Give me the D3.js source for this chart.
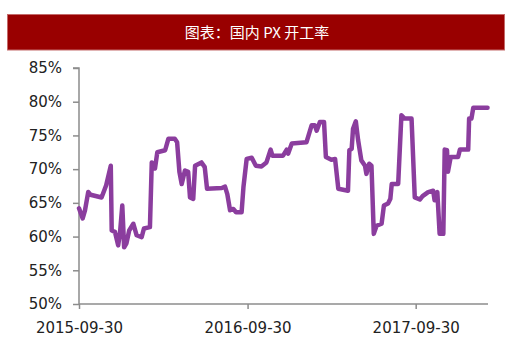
<!DOCTYPE html>
<html>
<head>
<meta charset="utf-8">
<script src="https://cdn.jsdelivr.net/npm/d3@7"></script>
<style>
  body { margin: 0; background: #fff; }
  svg { display: block; }
</style>
</head>
<body>
<svg></svg>
<script>
// chart data
let title = "图表：国内 PX 开工率";

let dates = [
  "2015-09-30","2015-10-08","2015-10-13","2015-10-20","2015-10-25","2015-11-18","2015-11-28","2015-12-08",
  "2015-12-10","2015-12-17","2015-12-24","2015-12-28","2016-01-02","2016-01-06","2016-01-11","2016-01-17",
  "2016-01-26","2016-02-02","2016-02-13","2016-02-18","2016-03-02","2016-03-06","2016-03-13","2016-03-18",
  "2016-04-04","2016-04-11","2016-04-25","2016-04-30","2016-05-05","2016-05-10","2016-05-17","2016-05-24",
  "2016-05-28","2016-06-04","2016-06-08","2016-06-22","2016-06-29","2016-07-04","2016-08-05","2016-08-12",
  "2016-08-17","2016-08-23","2016-08-30","2016-09-05","2016-09-17","2016-09-21","2016-09-28","2016-10-09",
  "2016-10-18","2016-10-30","2016-11-10","2016-11-19","2016-11-23","2016-12-16","2016-12-24","2016-12-27",
  "2017-01-04","2017-02-05","2017-02-16","2017-02-23","2017-02-27","2017-03-06","2017-03-15","2017-03-19",
  "2017-03-31","2017-04-08","2017-04-15","2017-05-06","2017-05-09","2017-05-14","2017-05-17","2017-05-23",
  "2017-05-28","2017-06-04","2017-06-12","2017-06-15","2017-06-21","2017-06-26","2017-07-01","2017-07-07",
  "2017-07-18","2017-07-23","2017-08-01","2017-08-06","2017-08-09","2017-08-23","2017-08-30","2017-09-06",
  "2017-09-21","2017-09-28","2017-10-09","2017-10-15","2017-10-27","2017-11-07","2017-11-10","2017-11-16",
  "2017-11-21","2017-11-29","2017-12-02","2017-12-07","2017-12-09","2017-12-15","2017-12-31","2018-01-04",
  "2018-01-22","2018-01-24","2018-01-29","2018-02-02","2018-03-05"
];

let rates = [
  64.2, 62.7, 63.9, 66.6, 66.2, 65.8, 67.6, 70.5,
  60.9, 60.7, 58.7, 60.5, 64.6, 58.4, 59.0, 60.9,
  61.9, 60.2, 59.9, 61.2, 61.4, 71.0, 70.1, 72.5,
  72.8, 74.5, 74.5, 74.0, 69.6, 67.8, 69.8, 69.6,
  65.8, 65.6, 70.5, 71.0, 70.3, 67.1, 67.2, 67.4,
  66.3, 63.9, 64.1, 63.6, 63.6, 67.3, 71.5, 71.7,
  70.5, 70.4, 71.0, 72.9, 72.0, 72.0, 72.9, 72.3,
  73.8, 74.0, 76.5, 76.5, 75.7, 77.0, 77.0, 71.8,
  71.4, 71.5, 67.1, 66.8, 72.8, 73.0, 76.0, 77.1,
  74.3, 71.3, 70.5, 69.3, 70.8, 70.5, 60.4, 61.6,
  61.9, 64.6, 64.9, 65.6, 67.8, 67.8, 78.0, 77.5,
  77.5, 65.8, 65.5, 66.0, 66.6, 66.8, 65.4, 66.6,
  60.4, 60.4, 72.9, 72.8, 69.6, 71.8, 71.8, 72.9,
  72.9, 77.5, 77.5, 79.1, 79.1
];

let xTickLabels = ["2015-09-30", "2016-09-30", "2017-09-30"];
let yTickValues = [50, 55, 60, 65, 70, 75, 80, 85];

let svgWidth = 520, svgHeight = 351;
let plotLeft = 79, plotRight = 488, plotTop = 68, plotBottom = 304;

let parseDate = d3.timeParse("%Y-%m-%d");
let points = dates.map((d, i) => ({ date: parseDate(d), value: rates[i] }));

let svg = d3.select("svg")
  .attr("width", svgWidth)
  .attr("height", svgHeight);

// title bar
svg.append("rect")
  .attr("x", 7.5).attr("y", 14.5)
  .attr("width", 497).attr("height", 35.5)
  .attr("fill", "#990000")
  .attr("stroke", "#c46a6a")
  .attr("stroke-width", 1);

svg.append("text")
  .attr("x", 257).attr("y", 37.5)
  .attr("text-anchor", "middle")
  .attr("fill", "#ffffff")
  .attr("font-family", "'Noto Sans CJK SC', sans-serif")
  .attr("font-size", 15)
  .text(title);

let xScale = d3.scaleTime()
  .domain([parseDate("2015-09-30"), parseDate("2018-03-06")])
  .range([plotLeft, plotRight]);

let yScale = d3.scaleLinear()
  .domain([50, 85])
  .range([plotBottom, plotTop]);

let axisColor = "#8c8c8c";
let labelFont = "'DejaVu Sans', sans-serif";

// y axis
let yAxis = d3.axisLeft(yScale)
  .tickValues(yTickValues)
  .tickSize(6)
  .tickPadding(11)
  .tickFormat(d => d + "%");

let gy = svg.append("g")
  .attr("transform", "translate(" + plotLeft + ",0)")
  .call(yAxis);
gy.select(".domain").attr("stroke", axisColor).attr("stroke-width", 1.5)
  .attr("d", "M-6," + plotTop + "H0V" + plotBottom);
gy.selectAll(".tick line").attr("stroke", axisColor).attr("stroke-width", 1.5);
gy.selectAll(".tick text")
  .attr("fill", "#222")
  .attr("font-family", labelFont)
  .attr("font-size", 15);

// x axis
let xAxis = d3.axisBottom(xScale)
  .tickValues(xTickLabels.map(parseDate))
  .tickSize(5)
  .tickPadding(13)
  .tickFormat(d3.timeFormat("%Y-%m-%d"));

let gx = svg.append("g")
  .attr("transform", "translate(0," + plotBottom + ")")
  .call(xAxis);
gx.select(".domain").attr("stroke", axisColor).attr("stroke-width", 1.5)
  .attr("d", "M" + plotLeft + ",0H" + plotRight);
gx.selectAll(".tick line").attr("stroke", axisColor).attr("stroke-width", 1.5);
gx.selectAll(".tick text")
  .attr("fill", "#222")
  .attr("font-family", labelFont)
  .attr("font-size", 15);

// the line
let line = d3.line()
  .x(d => xScale(d.date))
  .y(d => yScale(d.value));

svg.append("path")
  .datum(points)
  .attr("d", line)
  .attr("fill", "none")
  .attr("stroke", "#8b3d9e")
  .attr("stroke-width", 4.5)
  .attr("stroke-linejoin", "round")
  .attr("stroke-linecap", "round");
</script>
</body>
</html>
